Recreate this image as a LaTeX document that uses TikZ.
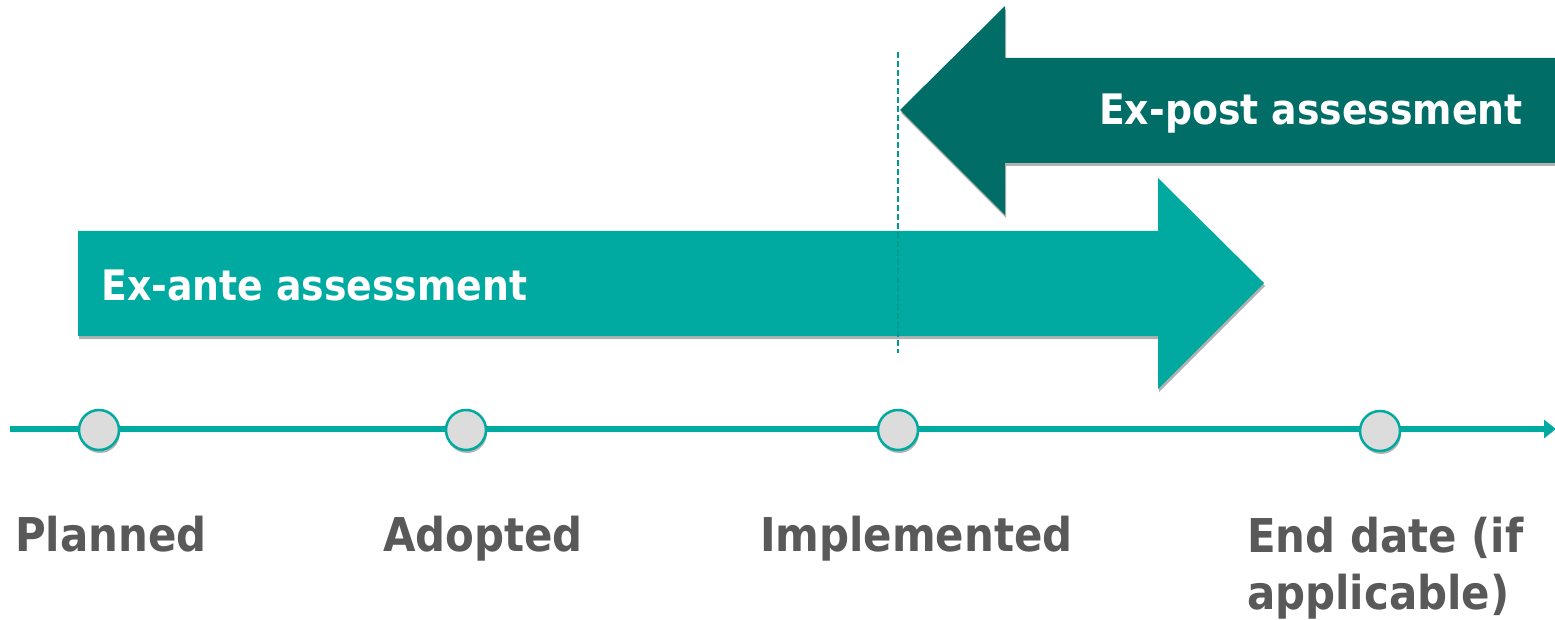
\documentclass[tikz,border=0pt]{standalone}
\usepackage{fontspec}
\setmainfont{DejaVu Sans Condensed}[BoldFont={DejaVu Sans Condensed Bold}]
\usetikzlibrary{shadows,arrows.meta}
\definecolor{tealA}{HTML}{00AAA0}
\definecolor{tealB}{HTML}{006D66}
\definecolor{dotfill}{HTML}{DCDCDC}
\definecolor{labgray}{HTML}{595959}
\tikzset{
  shad/.style={drop shadow={shadow xshift=1pt, shadow yshift=-3pt, opacity=0.3, fill=black}},
  dotnode/.style={circle, minimum size=40pt, inner sep=0pt, fill=dotfill, draw=tealA, line width=2.5pt, shad},
  lab/.style={inner sep=0pt, text=labgray, font=\fontsize{46.6}{57}\selectfont\bfseries, align=left},
  bartext/.style={inner sep=0pt, text=white, font=\fontsize{42}{50}\selectfont\bfseries},
  tline/.style={draw=tealA, line width=5.5pt, -{Triangle[length=12pt,width=18pt]}},
  dashline/.style={draw=tealA!90!black, line width=2pt, dash pattern=on 6pt off 3pt}
}
\begin{document}
\begin{tikzpicture}[x=1pt,y=-1pt]
\useasboundingbox (0,0) rectangle (1555,620);
% ex-post arrow
\fill[tealB, shad] (900,110) -- (1005,6) -- (1005,58) -- (1570,58) -- (1570,163) -- (1005,163) -- (1005,215) -- cycle;
% ex-ante arrow
\fill[tealA, shad] (78,231) -- (1158,231) -- (1158,178) -- (1264,283) -- (1158,389) -- (1158,336) -- (78,336) -- cycle;
\node[bartext, anchor=base west] (exante) at (101,301) {Ex-ante assessment};
\node[bartext, anchor=base east] (expost) at (1523,125) {Ex-post assessment};
% dashed marker
\coordinate (dtop) at (898,52);
\coordinate (dbot) at (898,353);
\draw[dashline] (dtop) -- (dbot);
% timeline
\coordinate (ts) at (10,429);
\coordinate (te) at (1556,429);
\draw[tline, shad] (ts) -- (te);
\node[dotnode] (planned) at (99,430) {};
\node[dotnode] (adopted) at (466,430) {};
\node[dotnode] (implemented) at (898,430) {};
\node[dotnode] (enddate) at (1380,431) {};
% labels
\node[lab, anchor=base west] (lplanned) at (15,551) {Planned};
\node[lab, anchor=base west] (ladopted) at (383,551) {Adopted};
\node[lab, anchor=base west] (limpl) at (760,551) {Implemented};
\node[lab, anchor=north west] (lend) at (1247,517) {End date (if\\applicable)};
\end{tikzpicture}
\end{document}
